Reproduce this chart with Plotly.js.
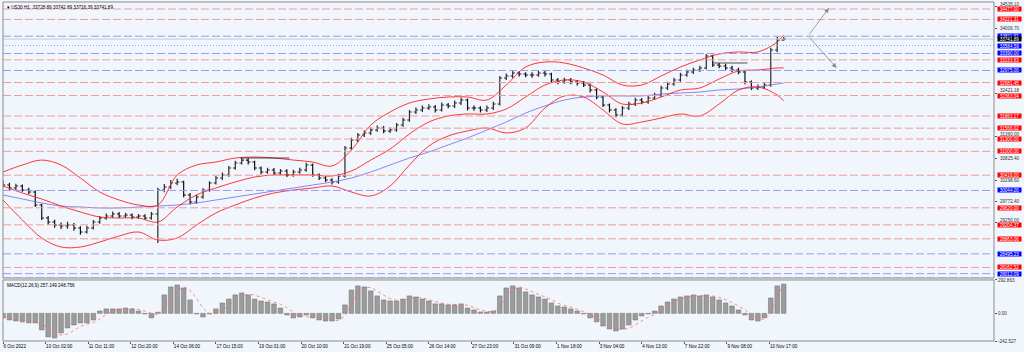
<!DOCTYPE html>
<html><head><meta charset="utf-8">
<script src="https://cdn.plot.ly/plotly-3.0.1.min.js"></script>
<style>html,body{margin:0;padding:0;background:#f0f6fc;}#c{width:1024px;height:352px;}</style>
</head><body><div id="c"></div>
<script>
// ---- candles (H1 bars, one entry every 5 bars) ----
const barIdx = [];
for (let i = 0; i < 122; i++) barIdx.push(i * 5);
const opens = [30200,30177,30104,30153,30055,30006,29689,29371,29273,29200,29176,29200,29127,29029,29127,29273,29371,29420,29469,29420,29444,29396,29420,29371,29469,30055,30129,30226,30251,29933,29762,29884,30055,30226,30348,30422,30593,30715,30787,30739,30593,30495,30544,30471,30519,30422,30495,30544,30666,30422,30348,30300,30251,30397,31081,31277,31399,31448,31521,31570,31497,31521,31643,31765,31961,32010,32058,32083,32010,32132,32107,32181,32254,32058,32058,32010,32058,32156,32791,32840,32914,32889,32865,32865,32914,32889,32743,32694,32743,32694,32669,32620,32498,32327,32132,32010,31887,32058,32156,32254,32205,32303,32376,32547,32645,32743,32865,32938,32987,33036,33329,33109,33085,33036,32987,32938,32694,32547,32572,32620,33475,33720];
const highs = [30290,30230,30210,30190,30110,30040,29720,29420,29330,29260,29280,29250,29170,29180,29320,29420,29480,29530,29520,29500,29480,29470,29460,29520,30110,30200,30300,30330,30280,29980,29940,30100,30270,30400,30480,30640,30770,30850,30830,30770,30630,30600,30590,30570,30560,30550,30600,30720,30700,30460,30390,30340,30450,31130,31330,31450,31510,31580,31630,31620,31580,31690,31820,32010,32070,32120,32150,32130,32190,32180,32240,32310,32290,32120,32100,32120,32210,32840,32900,32970,32960,32930,32930,32970,32960,32920,32790,32800,32790,32740,32720,32660,32540,32370,32170,32050,32110,32210,32310,32300,32350,32430,32600,32700,32800,32920,32990,33040,33090,33380,33360,33160,33140,33090,33040,32970,32730,32630,32680,33530,33800,33790];
const lows = [30120,30060,30050,30010,29950,29640,29320,29200,29130,29100,29110,29060,28960,28990,29090,29230,29330,29380,29370,29380,29340,29350,29320,29330,28760,30000,30080,30170,29880,29700,29720,29840,30010,30190,30300,30380,30550,30680,30680,30540,30440,30450,30420,30430,30370,30380,30450,30500,30380,30300,30250,30190,30210,30360,31040,31230,31350,31400,31480,31440,31450,31480,31600,31720,31910,31960,32010,31950,31970,32050,32060,32130,32000,31990,31950,31960,32010,32120,32740,32790,32830,32810,32800,32820,32830,32690,32640,32650,32640,32610,32570,32440,32270,32080,31950,31830,31850,32010,32110,32150,32160,32260,32330,32500,32600,32700,32820,32890,32940,33000,33060,33030,32980,32930,32880,32640,32500,32500,32520,32580,33420,33700];
const closes = [30177,30104,30153,30055,30006,29689,29371,29273,29200,29176,29200,29127,29029,29127,29273,29371,29420,29469,29420,29444,29396,29420,29371,29469,30055,30129,30226,30251,29933,29762,29884,30055,30226,30348,30422,30593,30715,30787,30739,30593,30495,30544,30471,30519,30422,30495,30544,30666,30422,30348,30300,30251,30397,31081,31277,31399,31448,31521,31570,31497,31521,31643,31765,31961,32010,32058,32083,32010,32132,32107,32181,32254,32058,32058,32010,32058,32156,32791,32840,32914,32889,32865,32865,32914,32889,32743,32694,32743,32694,32669,32620,32498,32327,32132,32010,31887,32058,32156,32254,32205,32303,32376,32547,32645,32743,32865,32938,32987,33036,33329,33109,33085,33036,32987,32938,32694,32547,32572,32620,33475,33720,33742];

// ---- Bollinger bands and long MA (one point every 15 bars) ----
const bandIdx = [0,15,30,45,60,75,90,105,120,135,150,165,180,195,210,225,240,255,270,285,300,315,330,345,360,375,390,405,420,435,450,465,480,495,510,525,540,555,570,585,600,605];
const bbUpper = [30495,30666,30787,30666,30348,30006,29811,29689,29689,30422,30666,30739,30837,30861,30837,30787,30739,30642,31032,31643,31961,32181,32278,32327,32327,32254,32620,33060,33182,33158,33036,32865,32620,32620,32840,33060,33231,33378,33427,33427,33671,33842];
const bbMiddle = [30153,29982,29835,29664,29518,29396,29371,29371,29273,29640,29933,30104,30251,30373,30422,30422,30422,30397,30519,30787,31057,31423,31716,31863,31912,31912,32034,32327,32620,32743,32694,32449,32156,32181,32327,32498,32547,32767,32962,32987,33036,33036];
const bbLower = [29811,29322,28883,28663,28663,28785,28931,29029,28834,28883,29200,29493,29689,29860,29982,30055,30104,30153,30006,29909,30153,30666,31130,31374,31497,31570,31448,31570,32058,32352,32327,32010,31668,31716,31814,31912,31863,32156,32498,32572,32376,32229];
const maLong = [29933,29835,29738,29664,29640,29616,29616,29640,29664,29689,29738,29811,29884,29958,30031,30104,30177,30251,30348,30495,30666,30837,30984,31155,31326,31521,31716,31936,32107,32254,32327,32352,32352,32352,32400,32425,32449,32498,32523,32572,32645,32669];

// ---- MACD(12,26,9) ----
const macdHist = [-40,-58,-67,-75,-84,-84,-146,-207,-216,-172,-128,-102,-84,-84,-58,21,39,39,39,47,39,21,-5,-40,10,162,232,249,223,118,-5,-32,-5,39,91,126,162,179,162,126,109,100,83,47,-14,-40,-32,-14,-40,-58,-67,-67,-49,74,205,241,232,197,153,118,109,109,126,153,144,126,109,83,83,74,74,83,47,30,12,12,21,153,223,241,223,188,162,144,126,91,65,56,39,21,-5,-40,-75,-111,-137,-155,-137,-102,-58,-23,-5,21,65,100,126,144,153,162,153,162,144,118,91,65,30,-14,-58,-67,-40,135,241,257];
const macdSignal = [-30,-45,-55,-63,-70,-77,-95,-130,-170,-190,-180,-150,-115,-95,-80,-50,-10,20,35,40,42,35,20,0,-10,40,120,190,230,200,130,50,0,0,30,70,110,145,165,160,140,120,100,80,50,10,-20,-30,-30,-40,-50,-60,-60,-20,80,170,225,225,195,160,130,115,115,130,140,135,120,105,90,80,78,78,70,50,30,18,15,60,140,205,230,215,190,165,145,120,90,70,55,35,15,-10,-40,-75,-105,-130,-140,-130,-100,-65,-35,-10,25,65,100,125,140,150,155,155,152,140,120,95,65,30,-10,-40,-50,20,150,249];
const macdMax = 292.863, macdMin = -242.527;

// ---- time axis labels ----
const timeTickIdx = [0,33,66,99,132,165,198,231,264,297,330,363,396,429,462,495,528,561,594];
const timeTickText = ['6 Oct 2022','10 Oct 02:00','11 Oct 11:00','12 Oct 20:00','14 Oct 06:00','17 Oct 15:00','19 Oct 01:00','20 Oct 10:00','21 Oct 19:00','25 Oct 05:00','26 Oct 14:00','27 Oct 23:00','31 Oct 09:00','1 Nov 18:00','3 Nov 04:00','4 Nov 13:00','7 Nov 22:00','9 Nov 08:00','10 Nov 17:00'];

// ---- price scale labels (grey) ----
const priceTickVals = [34535.10,34006.70,32421.18,31360.00,30825.40,30298.60,29772.40,29250.00];

// ---- horizontal levels ----
const levelPrices = [34477.00,34221.31,33811.92,33584.59,33390.00,33233.63,32975.00,32681.45,32363.04,31863.17,31566.02,31300.00,31000.00,30416.00,30044.00,29620.00,29204.37,28863.06,28495.23,28162.52,28012.09,27901.47];
const levelKinds  = ['r','r','b','bd','b','r','b','r','r','r','r','r','r','r','b','r','r','r','b','r','b','b'];
const bidPrice = 33741.89;
const headerText = 'US30,H1  33728.89 33742.89 33716.39 33741.89';
const macdText = 'MACD(12,26,9) 257.149 248.756';

// ---- drawn objects ----
const segFrom = [184, 550];
const segTo = [222, 577];
const segPrice = [30837, 33158];
const arrowFrom = [624, 33817];
const arrowUp = [640, 34502];
const arrowDown = [646, 33036];

const BG = '#f0f6fc';
const FONT = 'Liberation Sans, Arial, sans-serif';
const FS = 4.6;
const LBL_H = 4.2;

const traces = [
  {type:'scatter', mode:'lines', x:bandIdx, y:maLong, line:{color:'#7a7af0', width:0.9, shape:'spline'}, hoverinfo:'skip'},
  {type:'scatter', mode:'lines', x:bandIdx, y:bbUpper, line:{color:'#ff2020', width:0.9, shape:'spline'}, hoverinfo:'skip'},
  {type:'scatter', mode:'lines', x:bandIdx, y:bbMiddle, line:{color:'#ff2020', width:0.9, shape:'spline'}, hoverinfo:'skip'},
  {type:'scatter', mode:'lines', x:bandIdx, y:bbLower, line:{color:'#ff2020', width:0.9, shape:'spline'}, hoverinfo:'skip'},
  {type:'ohlc', x:barIdx, open:opens, high:highs, low:lows, close:closes, xaxis:'x', yaxis:'y', tickwidth:0.35,
   increasing:{line:{color:'#2a2a2a', width:1.2}}, decreasing:{line:{color:'#111111', width:1.2}}, hoverinfo:'skip'},
  {type:'bar', x:barIdx, y:macdHist, xaxis:'x', yaxis:'y2', width:3.6, marker:{color:'#9c9c9c', line:{color:'#707070', width:0.5}}, hoverinfo:'skip'},
  {type:'scatter', mode:'lines', x:barIdx, y:macdSignal, xaxis:'x', yaxis:'y2', line:{color:'#ff6a6a', width:0.8, dash:'dot', shape:'spline'}, hoverinfo:'skip'}
];

const shapes = [];
const annotations = [];
// grey price-scale labels, nudged so they sit beside the coloured boxes
const redBlueY = levelPrices.concat([bidPrice]);
priceTickVals.forEach(v => {
  // pixel distance to the nearest coloured label (24.43 price units per pixel)
  let shift = 0;
  redBlueY.forEach(p => { const d = (v - p) / 24.43; if (d > -0.5 && d < 4.6) shift = Math.max(shift, 4.6 - d); });
  annotations.push({xref:'paper', x:1, xanchor:'left', xshift:4, yref:'y', y:v, yanchor:'middle', yshift:shift,
    text:v.toFixed(2), showarrow:false, font:{family:FONT, size:FS, color:'#333'}});
});
levelPrices.forEach((p, i) => {
  const k = levelKinds[i];
  const red = k === 'r';
  shapes.push({type:'line', xref:'paper', x0:0, x1:1, yref:'y', y0:p, y1:p,
    line:{color: red ? '#f39a9a' : '#9a9af2', width:1, dash: k === 'bd' ? '1px,2px' : '8px,3px'}});
  annotations.push({xref:'paper', x:1, xanchor:'left', xshift:3, yref:'y', y:p, yanchor:'middle',
    text:p.toFixed(2), showarrow:false, bgcolor: red ? '#ff0000' : '#0000ff', font:{family:FONT, size:FS, color:'#ffffff'},
    borderpad:0, width:23, height:LBL_H, align:'center'});
});
// bid line + label
shapes.push({type:'line', xref:'paper', x0:0, x1:1, yref:'y', y0:bidPrice, y1:bidPrice, line:{color:'#c8cdd2', width:1}});
annotations.push({xref:'paper', x:1, xanchor:'left', xshift:3, yref:'y', y:bidPrice, yanchor:'middle',
  text:bidPrice.toFixed(2), showarrow:false, bgcolor:'#000000', font:{family:FONT, size:FS, color:'#ffffff'},
  borderpad:0, width:23, height:LBL_H});
// short horizontal objects
segFrom.forEach((s, i) => shapes.push({type:'line', xref:'x', yref:'y', x0:s, x1:segTo[i], y0:segPrice[i], y1:segPrice[i], line:{color:'#222', width:0.8}}));
// projection arrows
[arrowUp, arrowDown].forEach(a => annotations.push({xref:'x', yref:'y', x:a[0], y:a[1], ax:arrowFrom[0], ay:arrowFrom[1], axref:'x', ayref:'y',
  showarrow:true, arrowhead:2, arrowsize:1.2, arrowwidth:0.8, arrowcolor:'#8a8a8a', text:''}));
// panel frames
shapes.push({type:'rect', xref:'paper', x0:0, x1:1, yref:'y domain', y0:0, y1:1, line:{color:'#8c8c8c', width:1}, fillcolor:'rgba(0,0,0,0)'});
shapes.push({type:'rect', xref:'paper', x0:0, x1:1, yref:'y2 domain', y0:0, y1:1, line:{color:'#8c8c8c', width:1}, fillcolor:'rgba(0,0,0,0)'});
// header texts
annotations.push({xref:'paper', yref:'paper', x:0, y:1, xanchor:'left', yanchor:'top', xshift:2, yshift:-1, showarrow:false,
  text:'▾ ' + headerText, font:{family:FONT, size:FS, color:'#000'}});
annotations.push({xref:'paper', yref:'y2 domain', x:0, y:1, xanchor:'left', yanchor:'top', xshift:2, yshift:-1, showarrow:false,
  text:macdText, font:{family:FONT, size:FS, color:'#000'}});

const layout = {
  width:1024, height:352, margin:{l:3, r:30, t:2, b:11},
  paper_bgcolor:BG, plot_bgcolor:BG, showlegend:false,
  font:{family:FONT, size:FS, color:'#000'},
  xaxis:{range:[0,768], anchor:'y2', tickvals:timeTickIdx, ticktext:timeTickText, ticks:'outside', ticklen:2, tickcolor:'#555',
    ticklabelposition:'outside right', tickfont:{family:FONT, size:FS, color:'#000'}, showgrid:false, zeroline:false,
    showline:false, rangeslider:{visible:false}, fixedrange:true},
  yaxis:{domain:[0.1858, 1], range:[27905, 34648], side:'right', tickvals:priceTickVals, showticklabels:false,
    ticks:'outside', ticklen:2, tickcolor:'#555', showgrid:false, zeroline:false, fixedrange:true},
  yaxis2:{domain:[0, 0.18], range:[macdMin, macdMax], side:'right', tickvals:[macdMax, 0, macdMin],
    ticktext:[macdMax.toFixed(3), '0.00', macdMin.toFixed(3)], ticks:'outside', ticklen:2, tickcolor:'#555',
    tickfont:{family:FONT, size:FS, color:'#333'}, showgrid:false, zeroline:false, fixedrange:true},
  bargap:0, shapes:shapes, annotations:annotations
};
Plotly.newPlot('c', traces, layout, {staticPlot:true, displayModeBar:false});
</script></body></html>
